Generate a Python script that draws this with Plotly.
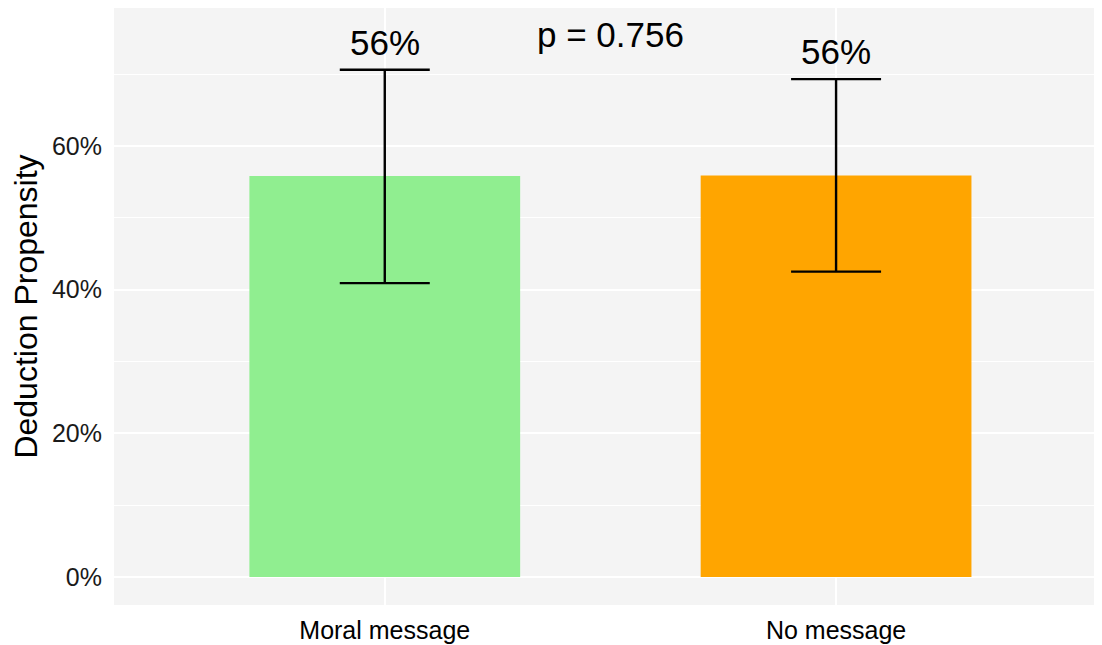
import plotly.graph_objects as go

# Data
groups = ["Moral message", "No message"]
propensity = [0.558, 0.559]
ci_low = [0.409, 0.425]
ci_high = [0.706, 0.693]
bar_labels = ["56%", "56%"]
bar_colors = ["#90EE90", "#FFA500"]
p_label = "p = 0.756"

font_family = "Liberation Sans, Arial, sans-serif"
x_pos = list(range(len(groups)))

fig = go.Figure()

fig.add_trace(
    go.Bar(
        x=x_pos,
        y=propensity,
        width=0.6,
        marker=dict(color=bar_colors, line=dict(width=0)),
        error_y=dict(
            type="data",
            symmetric=False,
            array=[hi - v for hi, v in zip(ci_high, propensity)],
            arrayminus=[v - lo for lo, v in zip(ci_low, propensity)],
            color="black",
            thickness=2.4,
            width=45,
        ),
        hoverinfo="skip",
    )
)

# value labels above the error bars
for x, hi, lab in zip(x_pos, ci_high, bar_labels):
    fig.add_annotation(
        x=x, y=hi, text=lab, showarrow=False,
        yanchor="bottom", yshift=6,
        font=dict(size=35, color="black", family=font_family),
    )

fig.add_annotation(
    x=0.5, y=0.755, text=p_label, showarrow=False,
    xanchor="center", yanchor="middle",
    font=dict(size=35, color="black", family=font_family),
)

fig.update_layout(
    width=1102,
    height=637,
    margin=dict(l=106, r=0, t=0, b=40),
    paper_bgcolor="white",
    plot_bgcolor="#f4f4f4",
    showlegend=False,
    font=dict(family=font_family, color="#1a1a1a"),
    xaxis=dict(
        range=[-0.6, 1.607],
        tickmode="array",
        tickvals=x_pos,
        ticktext=groups,
        tickfont=dict(size=25, color="black"),
        ticklabelstandoff=8,
        showgrid=True,
        gridcolor="white",
        gridwidth=1.5,
        zeroline=False,
        showline=False,
        ticks="",
        ticklen=0,
    ),
    yaxis=dict(
        range=[-0.039, 0.792],
        tickmode="array",
        tickvals=[0, 0.2, 0.4, 0.6],
        tickformat=".0%",
        tickfont=dict(size=25, color="#1a1a1a"),
        ticklabelstandoff=11,
        title=dict(text="Deduction Propensity", font=dict(size=32, color="black"), standoff=6),
        showgrid=True,
        gridcolor="white",
        gridwidth=1.5,
        minor=dict(tickvals=[0.1, 0.3, 0.5, 0.7], showgrid=True, gridcolor="white", gridwidth=0.8),
        zeroline=False,
        showline=False,
        ticks="",
    ),
)

fig.write_html("out.html")
